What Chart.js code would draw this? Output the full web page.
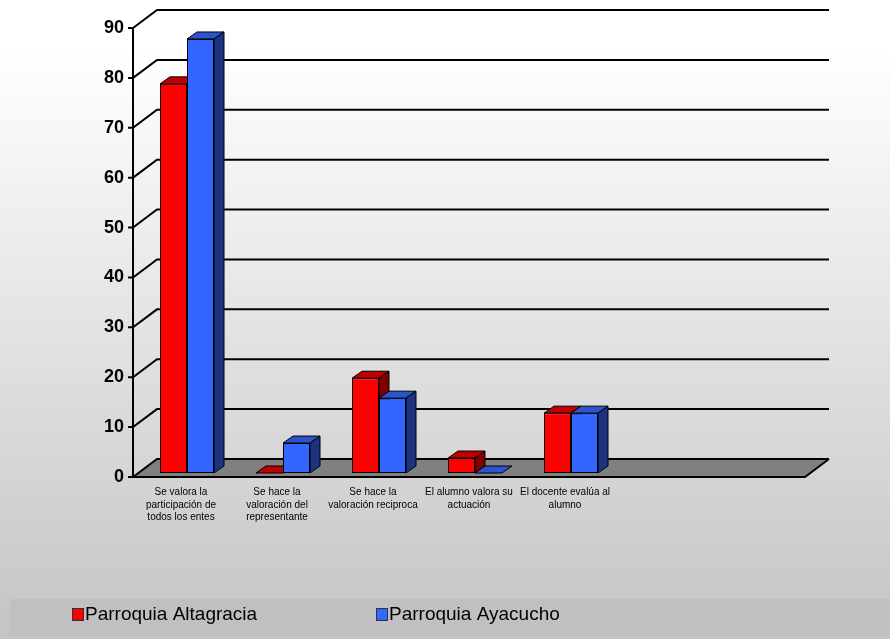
<!DOCTYPE html>
<html lang="es">
<head>
    <meta charset="UTF-8">
    <title>Valoración</title>
    <script src="https://cdn.jsdelivr.net/npm/chart.js@4.4.1/dist/chart.umd.min.js"></script>
    <style>
        body { margin: 0; background: #fff; }
        canvas { display: block; }
    </style>
</head>
<body>
    <canvas id="chart" width="890" height="639"></canvas>
    <script>
        // data
        const categories = [
            ['Se valora la', 'participación de', 'todos los entes'],
            ['Se hace la', 'valoración del', 'representante'],
            ['Se hace la', 'valoración reciproca'],
            ['El alumno valora su', 'actuación'],
            ['El docente evalúa al', 'alumno'],
            '',
            ''
        ];
        const altagracia = [78, 0, 19, 3, 12, null, null];
        const ayacucho = [87, 6, 15, 0, 12, null, null];
        const seriesNames = ['Parroquia Altagracia', 'Parroquia Ayacucho'];
        const yTicks = [0, 10, 20, 30, 40, 50, 60, 70, 80, 90];

        const front = ['#ff0000', '#3366ff'];
        const topFace = ['#c00000', '#2a55cc'];
        const sideFace = ['#800000', '#1c3480'];

        // wall depth and bar depth
        const WX = 24, WY = -18;
        const BX = 10, BY = -7;
        const SHIFT_X = 6, SHIFT_Y = -4;

        const threeD = {
            id: 'threeD',
            beforeDraw(chart) {
                const ctx = chart.ctx;
                const { left, right } = chart.chartArea;
                const y = chart.scales.y;

                // background
                const g = ctx.createLinearGradient(0, 0, 0, chart.height);
                g.addColorStop(0, '#ffffff');
                g.addColorStop(0.08, '#ffffff');
                g.addColorStop(1, '#c4c4c4');
                ctx.fillStyle = g;
                ctx.fillRect(0, 0, chart.width, chart.height);
                ctx.fillStyle = '#c0c0c0';
                ctx.fillRect(10, 599, chart.width - 10, 37);

                // floor
                const y0 = y.getPixelForValue(0);
                ctx.beginPath();
                ctx.moveTo(left, y0);
                ctx.lineTo(left + WX, y0 + WY);
                ctx.lineTo(right + WX, y0 + WY);
                ctx.lineTo(right, y0);
                ctx.closePath();
                ctx.fillStyle = '#808080';
                ctx.fill();

                ctx.strokeStyle = '#000';
                ctx.lineWidth = 2;
                ctx.beginPath();
                ctx.moveTo(left, y0);
                ctx.lineTo(right, y0);
                ctx.lineTo(right + WX, y0 + WY);
                ctx.stroke();

                // back wall grid + diagonals + tick stubs
                yTicks.forEach(v => {
                    const py = y.getPixelForValue(v);
                    ctx.beginPath();
                    ctx.moveTo(left - 5, py);
                    ctx.lineTo(left, py);
                    ctx.lineTo(left + WX, py + WY);
                    ctx.lineTo(right + WX, py + WY);
                    ctx.stroke();
                });

                // front axis
                ctx.beginPath();
                ctx.moveTo(left, y.getPixelForValue(90));
                ctx.lineTo(left, y0);
                ctx.stroke();

                // legend
                ctx.font = '19px Arial, "Liberation Sans", sans-serif';
                ctx.textBaseline = 'alphabetic';
                const lx = [72, 376];
                seriesNames.forEach((name, i) => {
                    ctx.fillStyle = front[i];
                    ctx.fillRect(lx[i], 608, 11, 12);
                    ctx.lineWidth = 1;
                    ctx.strokeStyle = '#333';
                    ctx.strokeRect(lx[i] + 0.5, 608.5, 11, 12);
                    ctx.fillStyle = '#000';
                    ctx.fillText(name, lx[i] + 13, 620);
                });
            },
            beforeDatasetsDraw(chart) {
                chart.ctx.save();
                chart.ctx.translate(SHIFT_X, SHIFT_Y);
            },
            afterDatasetsDraw(chart) {
                const ctx = chart.ctx;
                const metas = [chart.getDatasetMeta(0), chart.getDatasetMeta(1)];
                ctx.lineWidth = 1;
                ctx.strokeStyle = '#000';
                for (let i = 0; i < categories.length; i++) {
                    metas.forEach((meta, d) => {
                        const bar = meta.data[i];
                        if (!bar || chart.data.datasets[d].data[i] == null) return;
                        const p = bar.getProps(['x', 'y', 'base', 'width'], true);
                        const x1 = p.x - p.width / 2, x2 = p.x + p.width / 2;
                        const yt = Math.min(p.y, p.base), yb = Math.max(p.y, p.base);
                        if (d > 0) bar.draw(ctx);
                        // top
                        ctx.beginPath();
                        ctx.moveTo(x1, yt);
                        ctx.lineTo(x1 + BX, yt + BY);
                        ctx.lineTo(x2 + BX, yt + BY);
                        ctx.lineTo(x2, yt);
                        ctx.closePath();
                        ctx.fillStyle = topFace[d];
                        ctx.fill();
                        ctx.stroke();
                        // side
                        if (yb - yt > 0.5) {
                            ctx.beginPath();
                            ctx.moveTo(x2, yt);
                            ctx.lineTo(x2 + BX, yt + BY);
                            ctx.lineTo(x2 + BX, yb + BY);
                            ctx.lineTo(x2, yb);
                            ctx.closePath();
                            ctx.fillStyle = sideFace[d];
                            ctx.fill();
                            ctx.stroke();
                        }
                    });
                }
                ctx.restore();
            }
        };

        new Chart(document.getElementById('chart'), {
            type: 'bar',
            data: {
                labels: categories,
                datasets: [
                    {
                        label: seriesNames[0],
                        data: altagracia,
                        backgroundColor: front[0],
                        borderColor: '#000',
                        borderWidth: 1,
                        borderSkipped: false,
                        clip: false
                    },
                    {
                        label: seriesNames[1],
                        data: ayacucho,
                        backgroundColor: front[1],
                        borderColor: '#000',
                        borderWidth: 1,
                        borderSkipped: false,
                        clip: false
                    }
                ]
            },
            options: {
                responsive: false,
                animation: false,
                devicePixelRatio: 1,
                datasets: { bar: { categoryPercentage: 0.5625, barPercentage: 1 } },
                layout: { padding: { left: 0, right: 85, top: 28, bottom: 112 } },
                plugins: { legend: { display: false }, tooltip: { enabled: false } },
                scales: {
                    x: {
                        grid: { display: false, drawTicks: false },
                        border: { display: false },
                        ticks: {
                            color: '#000',
                            padding: 9,
                            maxRotation: 0,
                            autoSkip: false,
                            font: { family: 'Arial, "Liberation Sans", sans-serif', size: 10, lineHeight: 1.25 }
                        },
                        afterFit: s => { s.height = 50; }
                    },
                    y: {
                        min: 0,
                        max: 90,
                        grid: { display: false, drawTicks: false },
                        border: { display: false },
                        ticks: {
                            stepSize: 10,
                            color: '#000',
                            padding: 9,
                            font: { family: 'Arial, "Liberation Sans", sans-serif', size: 18, weight: 'bold' }
                        },
                        afterFit: s => { s.width = 133; }
                    }
                }
            },
            plugins: [threeD]
        });
    </script>
</body>
</html>
